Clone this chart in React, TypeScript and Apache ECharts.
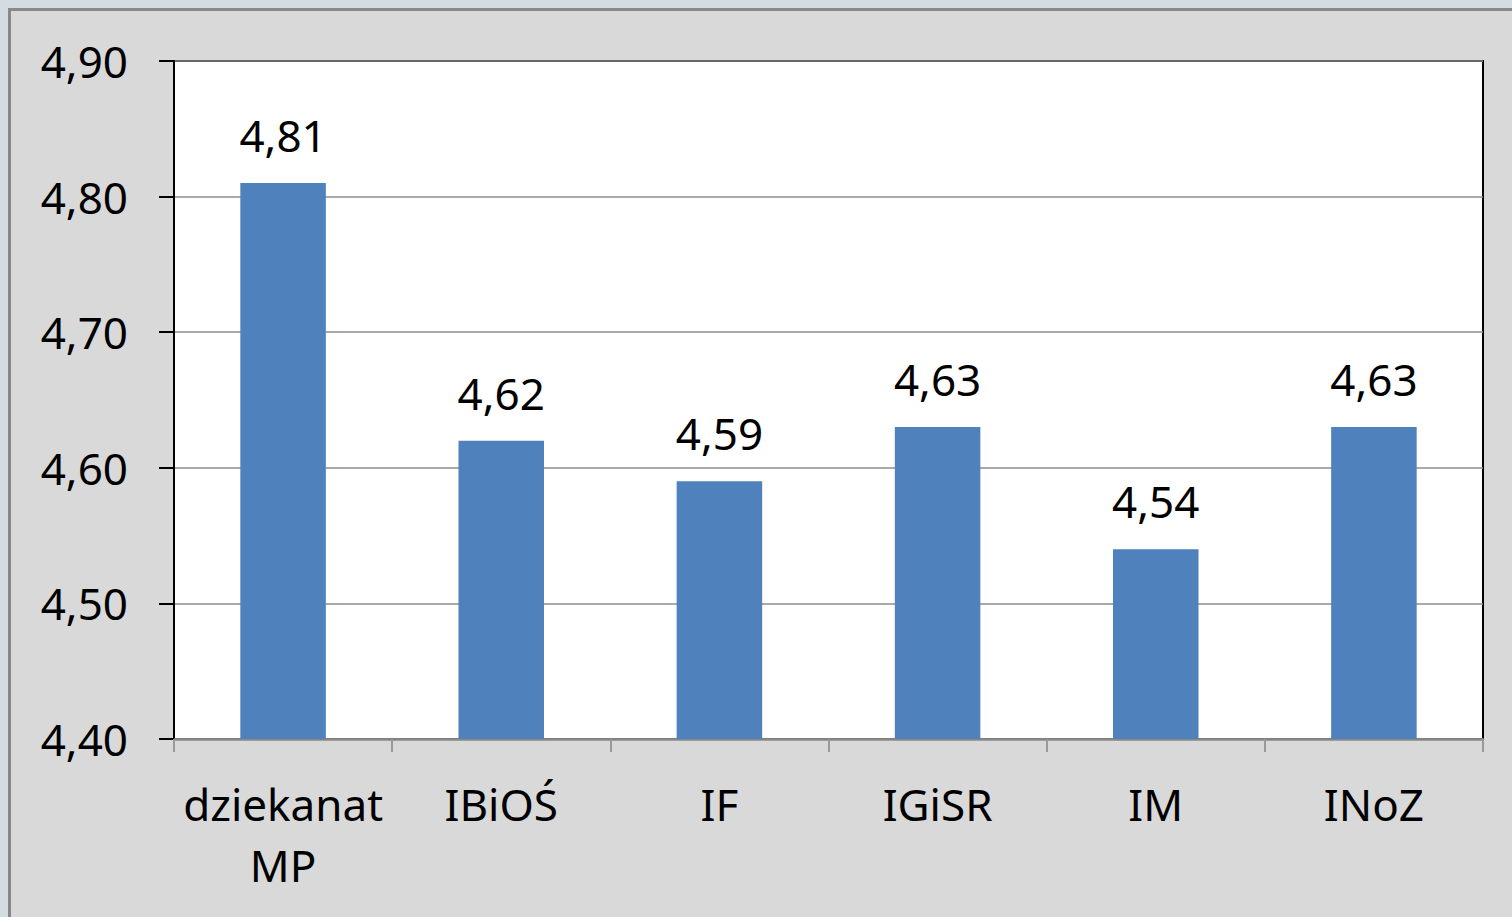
import React, { useEffect, useRef } from "react";
import * as echarts from "echarts";

const categories = ["dziekanat\nMP", "IBiOŚ", "IF", "IGiSR", "IM", "INoZ"];
const values = [4.81, 4.62, 4.59, 4.63, 4.54, 4.63];
const yMin = 4.4;
const yMax = 4.9;
const yInterval = 0.1;

const fmt = (v: number) => v.toFixed(2).replace(".", ",");

export default function App() {
  const ref = useRef<HTMLDivElement>(null);
  useEffect(() => {
    document.body.style.margin = "0";
    const chart = echarts.init(ref.current!, null, { renderer: "svg" });
    const font = "'Noto Sans', 'Open Sans', sans-serif";
    chart.setOption({
      animation: false,
      backgroundColor: "#d3dce1",
      textStyle: { fontFamily: font },
      graphic: [
        {
          type: "rect",
          z: -10,
          shape: { x: 9.5, y: 9.5, width: 1700, height: 1100 },
          style: { fill: "#d9d9d9", stroke: "#888888", lineWidth: 3 },
        },
      ],
      grid: {
        left: 174,
        right: 29,
        top: 61,
        bottom: 178,
        show: true,
        backgroundColor: "#ffffff",
        borderColor: "#000000",
        borderWidth: 2,
      },
      xAxis: {
        type: "category",
        data: categories,
        boundaryGap: true,
        axisLine: { lineStyle: { color: "#888888", width: 2.5 } },
        axisTick: { show: true, length: 13, lineStyle: { color: "#999999", width: 2 } },
        axisLabel: {
          color: "#000000",
          fontSize: 44,
          fontFamily: font,
          lineHeight: 61,
          margin: 34,
          interval: 0,
        },
      },
      yAxis: {
        type: "value",
        min: yMin,
        max: yMax,
        interval: yInterval,
        axisLine: { show: true, lineStyle: { color: "#000000", width: 2 } },
        axisTick: { show: true, inside: false, length: 15, lineStyle: { color: "#000000", width: 2 } },
        splitLine: { lineStyle: { color: "#8c8c8c", width: 1.5 } },
        axisLabel: {
          color: "#000000",
          fontSize: 44,
          fontFamily: font,
          margin: 46,
          formatter: (v: number) => fmt(v),
        },
      },
      series: [
        {
          type: "bar",
          data: values,
          barWidth: "39.2%",
          itemStyle: { color: "#4f81bd" },
          label: {
            show: true,
            position: "top",
            distance: 26,
            color: "#000000",
            fontSize: 44,
            fontFamily: font,
            formatter: (p: any) => fmt(p.value),
          },
        },
      ],
    });
    return () => chart.dispose();
  }, []);
  return (
    <div
      ref={ref}
      style={{ position: "absolute", left: 0, top: 0, width: 1512, height: 917 }}
    />
  );
}
